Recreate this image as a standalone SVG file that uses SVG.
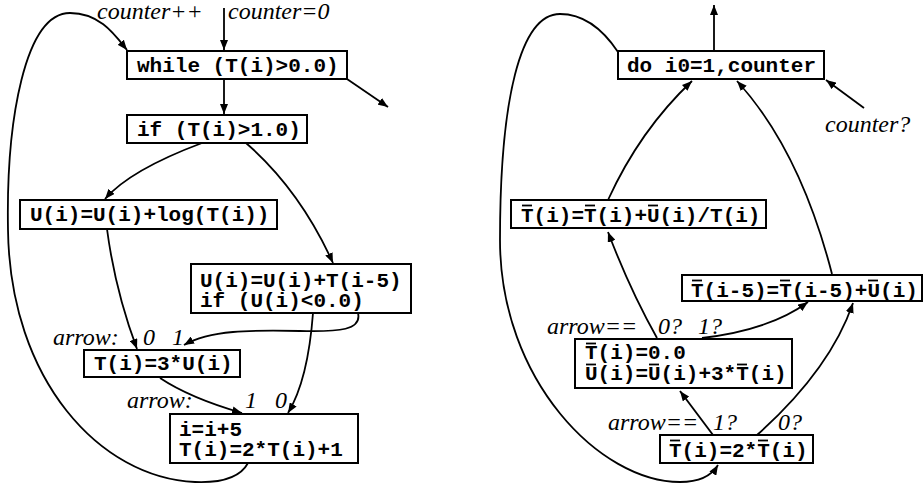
<svg xmlns="http://www.w3.org/2000/svg" width="923" height="486" viewBox="0 0 923 486">
<style>
.box{fill:#fff;stroke:#000;stroke-width:2}
.code{font-family:"Liberation Mono","Courier New",monospace;font-weight:bold;font-size:21px;fill:#000}
.lbl{font-family:"Liberation Serif","Times New Roman",serif;font-style:italic;font-size:24px;fill:#000}
.con{fill:none;stroke:#000;stroke-width:1.8}
.bar{stroke:#000;stroke-width:1.8}
</style>
<defs>
<marker id="ah" viewBox="0 0 10 8" refX="10" refY="4" markerWidth="10" markerHeight="8" orient="auto" markerUnits="userSpaceOnUse">
<path d="M0,0 L10,4 L0,8 z" fill="#000"/>
</marker>
</defs>
<g id="connectors">
<line class="con" x1="224" y1="8" x2="224" y2="50" marker-end="url(#ah)"/>
<line class="con" x1="224" y1="80" x2="224" y2="114" marker-end="url(#ah)"/>
<line class="con" x1="347" y1="79" x2="388" y2="107" marker-end="url(#ah)"/>
<path class="con" d="M202,143 Q130,170 105,199" marker-end="url(#ah)"/>
<path class="con" d="M246,143 Q300,190 333,263" marker-end="url(#ah)"/>
<path class="con" d="M107,229 Q115,290 137,349" marker-end="url(#ah)"/>
<path class="con" d="M358,313 C362,330 340,332 300,331 C250,330 210,330 184,345" marker-end="url(#ah)"/>
<path class="con" d="M313,313 Q308,380 288,413" marker-end="url(#ah)"/>
<path class="con" d="M160,378 Q190,398 242,413" marker-end="url(#ah)"/>
<path class="con" d="M248,463 C240,478 220,483 195,482 C100,478 10,380 8,230 C6,120 25,13 70,13 C100,13 115,35 127,50" marker-end="url(#ah)"/>
<line class="con" x1="714" y1="51" x2="714" y2="5" marker-end="url(#ah)"/>
<line class="con" x1="864" y1="108" x2="826" y2="80" marker-end="url(#ah)"/>
<path class="con" d="M608,200 Q640,130 692,81" marker-end="url(#ah)"/>
<path class="con" d="M832,274 Q800,150 737,81" marker-end="url(#ah)"/>
<path class="con" d="M657,338 Q630,290 608,232" marker-end="url(#ah)"/>
<path class="con" d="M702,338 Q770,330 808,302" marker-end="url(#ah)"/>
<line class="con" x1="713" y1="435" x2="680" y2="391" marker-end="url(#ah)"/>
<path class="con" d="M757,435 Q830,370 853,303" marker-end="url(#ah)"/>
<path class="con" d="M618,52 C600,25 580,14 560,14 C520,14 500,100 500,240 C500,380 600,482 680,482 C700,482 712,475 718,465" marker-end="url(#ah)"/>
</g>
<g id="labels">
<text class="lbl" x="97" y="19">counter++</text>
<text class="lbl" x="228" y="19">counter=0</text>
<text class="lbl" x="53" y="345">arrow:</text>
<text class="lbl" x="143" y="345">0</text>
<text class="lbl" x="172" y="345">1</text>
<text class="lbl" x="127" y="408">arrow:</text>
<text class="lbl" x="245" y="408">1</text>
<text class="lbl" x="275" y="408">0</text>
<text class="lbl" x="825" y="132">counter?</text>
<text class="lbl" x="547" y="334">arrow==</text>
<text class="lbl" x="658" y="334">0?</text>
<text class="lbl" x="698" y="334">1?</text>
<text class="lbl" x="608" y="430">arrow==</text>
<text class="lbl" x="713" y="430">1?</text>
<text class="lbl" x="778" y="430">0?</text>
</g>
<g id="n_while">
<rect class="box" x="127" y="51" width="220" height="28"/>
<text class="code" x="137" y="72">while (T(i)&gt;0.0)</text>
</g>
<g id="n_if">
<rect class="box" x="127" y="115" width="180" height="28"/>
<text class="code" x="137" y="136">if (T(i)&gt;1.0)</text>
</g>
<g id="n_ulog">
<rect class="box" x="20" y="200" width="257" height="29"/>
<text class="code" x="30" y="221">U(i)=U(i)+log(T(i))</text>
</g>
<g id="n_ut">
<rect class="box" x="191" y="264" width="220" height="49"/>
<text class="code" x="200" y="287">U(i)=U(i)+T(i-5)</text>
<text class="code" x="200" y="307">if (U(i)&lt;0.0)</text>
</g>
<g id="n_t3u">
<rect class="box" x="84" y="350" width="156" height="27"/>
<text class="code" x="94" y="370">T(i)=3*U(i)</text>
</g>
<g id="n_i5">
<rect class="box" x="170" y="414" width="188" height="49"/>
<text class="code" x="179" y="436">i=i+5</text>
<text class="code" x="179" y="456">T(i)=2*T(i)+1</text>
</g>
<g id="n_do">
<rect class="box" x="618" y="51" width="206" height="28"/>
<text class="code" x="627" y="72">do i0=1,counter</text>
</g>
<g id="n_tb1">
<rect class="box" x="511" y="200" width="255" height="28"/>
<text class="code" x="521" y="222">T(i)=T(i)+U(i)/T(i)</text>
<line class="bar" x1="522" y1="205.5" x2="532" y2="205.5"/>
<line class="bar" x1="585" y1="205.5" x2="595" y2="205.5"/>
<line class="bar" x1="648" y1="205.5" x2="658" y2="205.5"/>
</g>
<g id="n_tb5">
<rect class="box" x="682" y="275" width="240" height="26"/>
<text class="code" x="691" y="297">T(i-5)=T(i-5)+U(i)</text>
<line class="bar" x1="692" y1="280.5" x2="702" y2="280.5"/>
<line class="bar" x1="780" y1="280.5" x2="790" y2="280.5"/>
<line class="bar" x1="868" y1="280.5" x2="878" y2="280.5"/>
</g>
<g id="n_tb0">
<rect class="box" x="575" y="339" width="217" height="49"/>
<text class="code" x="585" y="359">T(i)=0.0</text>
<text class="code" x="585" y="380">U(i)=U(i)+3*T(i)</text>
<line class="bar" x1="586" y1="343.5" x2="596" y2="343.5"/>
<line class="bar" x1="586" y1="364.5" x2="596" y2="364.5"/>
<line class="bar" x1="649" y1="364.5" x2="659" y2="364.5"/>
<line class="bar" x1="737" y1="364.5" x2="747" y2="364.5"/>
</g>
<g id="n_tb2">
<rect class="box" x="660" y="435" width="153" height="28"/>
<text class="code" x="669" y="457">T(i)=2*T(i)</text>
<line class="bar" x1="670" y1="440.5" x2="680" y2="440.5"/>
<line class="bar" x1="758" y1="440.5" x2="768" y2="440.5"/>
</g>
</svg>
